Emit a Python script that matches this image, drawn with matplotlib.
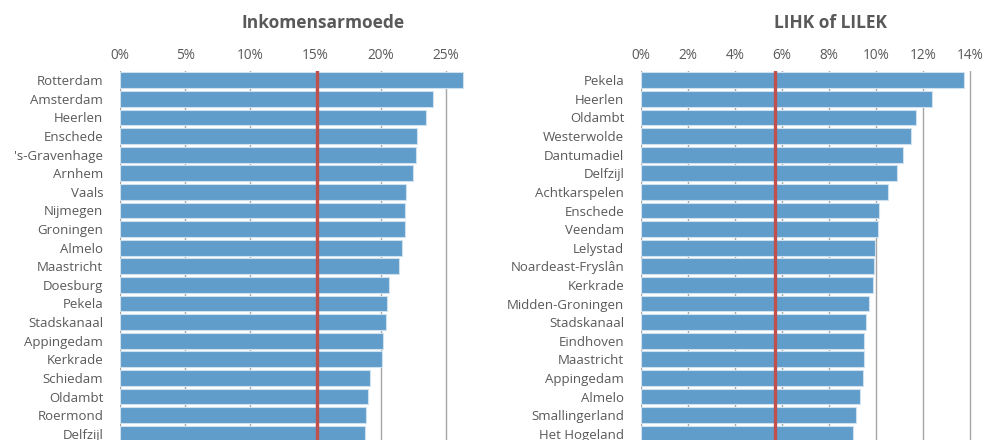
import numpy as np
import matplotlib
matplotlib.use("Agg")
import matplotlib.pyplot as plt
from matplotlib.ticker import PercentFormatter

plt.rcParams['font.family'] = ['Open Sans', 'DejaVu Sans']

# Inkomensarmoede (left panel)
left_names = ["Rotterdam", "Amsterdam", "Heerlen", "Enschede", "'s-Gravenhage", "Arnhem",
              "Vaals", "Nijmegen", "Groningen", "Almelo", "Maastricht", "Doesburg",
              "Pekela", "Stadskanaal", "Appingedam", "Kerkrade", "Schiedam", "Oldambt",
              "Roermond", "Delfzijl"]
left_vals = [26.3, 24.0, 23.5, 22.8, 22.7, 22.45, 21.9, 21.85, 21.85, 21.6, 21.4, 20.6,
             20.5, 20.4, 20.2, 20.1, 19.15, 19.0, 18.9, 18.8]
left_ref = 15.1
left_ticks = [0, 5, 10, 15, 20, 25]

# LIHK of LILEK (right panel)
right_names = ["Pekela", "Heerlen", "Oldambt", "Westerwolde", "Dantumadiel", "Delfzijl",
               "Achtkarspelen", "Enschede", "Veendam", "Lelystad", "Noardeast-Fryslân",
               "Kerkrade", "Midden-Groningen", "Stadskanaal", "Eindhoven", "Maastricht",
               "Appingedam", "Almelo", "Smallingerland", "Het Hogeland"]
right_vals = [13.73, 12.37, 11.7, 11.47, 11.13, 10.9, 10.53, 10.13, 10.09, 9.97, 9.9,
              9.86, 9.71, 9.57, 9.5, 9.5, 9.43, 9.32, 9.14, 9.03]
right_ref = 5.7
right_ticks = [0, 2, 4, 6, 8, 10, 12, 14]

W, H = 985, 440
BAR = "#619dca"
RED = "#c0504d"
GRAY = "#595959"

fig = plt.figure(figsize=(W / 100, H / 100), dpi=100)


def panel(x0, x1, xmax, names, vals, ref, ticks, title, title_x):
    top = 71
    unit = 18.6
    ybottom = -0.5 + (H - top) / unit
    ax = fig.add_axes([x0 / W, 0, (x1 - x0) / W, (H - top) / H])
    y = np.arange(len(names))
    ax.barh(y, vals, height=0.84, color=BAR, edgecolor="#cfe0ef", linewidth=0.8, zorder=2)
    ax.axvline(ref, color=RED, linewidth=2.4, zorder=3)
    ax.set_ylim(ybottom, -0.5)
    ax.set_xlim(0, xmax)
    ax.set_yticks(y)
    ax.set_yticklabels(names, fontsize=9.5, color=GRAY)
    ax.set_xticks(ticks)
    ax.xaxis.set_major_formatter(PercentFormatter(decimals=0))
    ax.xaxis.tick_top()
    ax.tick_params(axis="x", length=0, labelsize=9.8, labelcolor=GRAY, pad=6)
    ax.tick_params(axis="y", length=0, pad=12)
    ax.grid(axis="x", color="#a6a6a6", linewidth=1.0, zorder=0)
    ax.set_axisbelow(True)
    for s in ax.spines.values():
        s.set_visible(False)
    fig.text(title_x / W, 1 - 23 / H, title, ha="center", va="center",
             fontsize=12.5, fontweight="bold", color=GRAY)
    return ax


panel(120, 472, 27, left_names, left_vals, left_ref, left_ticks, "Inkomensarmoede", 323)
panel(641, 985, 14.64, right_names, right_vals, right_ref, right_ticks, "LIHK of LILEK", 830)

fig.savefig("out.png", dpi=100)
